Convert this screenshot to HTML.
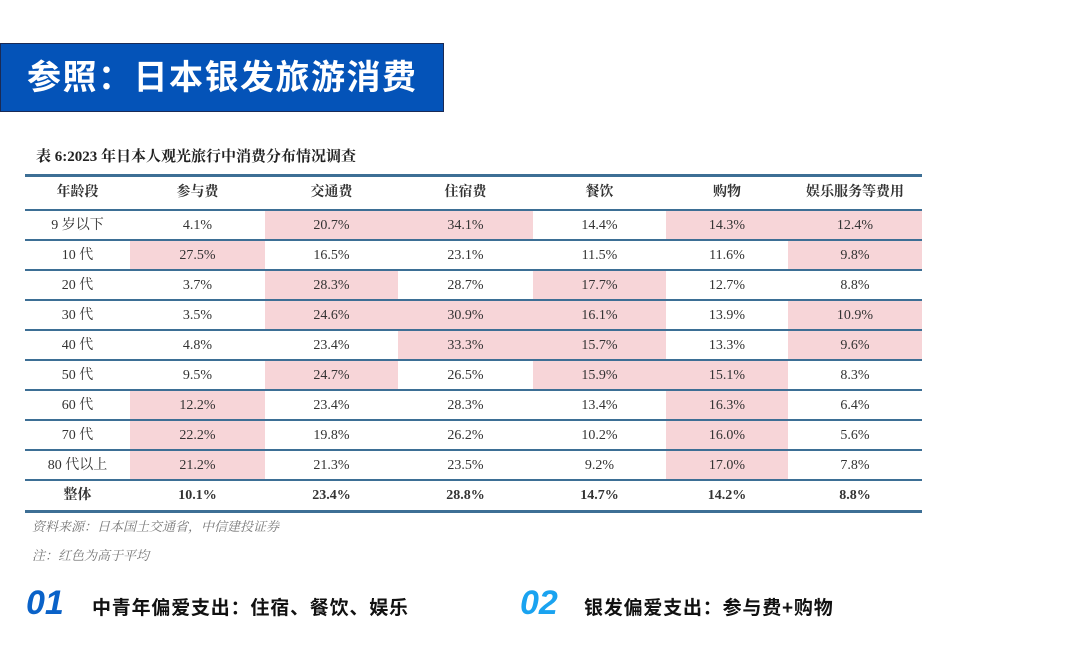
<!DOCTYPE html>
<html><head><meta charset="utf-8">
<style>
body{margin:0;width:1080px;height:652px;background:#fff;position:relative;overflow:hidden;font-family:"Liberation Serif","Noto Serif CJK SC",serif;}
.abs{position:absolute;}
#title{left:0;top:43px;width:444px;height:69px;background:#0453b8;border:1px solid #1a2a55;box-sizing:border-box;}
#title span{position:absolute;left:26px;top:6px;color:#fff;font:bold 34px "Liberation Sans","Noto Sans CJK SC",sans-serif;letter-spacing:1.5px;}
.cell{position:absolute;text-align:center;font-size:14px;color:#333;line-height:32px;}
.hl{background:#f7d5d8;}
.line{position:absolute;left:25px;width:897px;background:#3d6f95;}
.note{font-style:italic;color:#777;font-size:13px;}
.num{font:italic bold 34px "Liberation Sans",sans-serif;}
.sub{font:bold 19px "Liberation Sans","Noto Sans CJK SC",sans-serif;color:#111;letter-spacing:0.8px;}
</style></head><body>
<div id="title" class="abs"><span>参照：日本银发旅游消费</span></div>
<div class="abs" style="left:36px;top:145px;font-weight:bold;font-size:15px;color:#222;">表 6:2023 年日本人观光旅行中消费分布情况调查</div>
<div id="tbl"></div>
<div class="abs note" style="left:32px;top:516px;">资料来源：日本国土交通省，中信建投证券</div>
<div class="abs note" style="left:32px;top:545px;">注：红色为高于平均</div>
<div class="abs num" style="left:26px;top:584px;color:#0a62c8;">01</div>
<div class="abs sub" style="left:92px;top:593px;">中青年偏爱支出：住宿、餐饮、娱乐</div>
<div class="abs num" style="left:520px;top:584px;color:#1aa3f0;">02</div>
<div class="abs sub" style="left:584px;top:593px;">银发偏爱支出：参与费+购物</div>
<script>
const headers=["年龄段","参与费","交通费","住宿费","餐饮","购物","娱乐服务等费用"];
const ages=["9 岁以下","10 代","20 代","30 代","40 代","50 代","60 代","70 代","80 代以上"];
const values=[
[4.1,20.7,34.1,14.4,14.3,12.4],
[27.5,16.5,23.1,11.5,11.6,9.8],
[3.7,28.3,28.7,17.7,12.7,8.8],
[3.5,24.6,30.9,16.1,13.9,10.9],
[4.8,23.4,33.3,15.7,13.3,9.6],
[9.5,24.7,26.5,15.9,15.1,8.3],
[12.2,23.4,28.3,13.4,16.3,6.4],
[22.2,19.8,26.2,10.2,16.0,5.6],
[21.2,21.3,23.5,9.2,17.0,7.8]];
const highlights=[[2,3,5,6],[1,6],[2,4],[2,3,4,6],[3,4,6],[2,4,5],[1,5],[1,5],[1,5]];
const overall=[10.1,23.4,28.8,14.7,14.2,8.8];
const cx=[25,130,265,398,533,666,788,922];
const tbl=document.getElementById('tbl');
function cell(x0,x1,y,txt,bold,hl,name){
 const d=document.createElement('div');
 d.className='cell'+(hl?' hl':'');
 d.style.left=x0+'px';d.style.width=(x1-x0)+'px';d.style.top=y+'px';d.style.height='30px';
 if(bold)d.style.fontWeight='bold';
 d.textContent=txt;
 
 
 tbl.appendChild(d);
}
function line(y,h){
 const l=document.createElement('div');l.className='line';l.style.top=y+'px';l.style.height=h+'px';
 
 
 tbl.appendChild(l);
}
headers.forEach((h,i)=>cell(cx[i],cx[i+1],177,h,true,false,'header-cell'));
values.forEach((row,r)=>{
 const y=210+r*30;
 cell(cx[0],cx[1],y,ages[r],false,false,'age-label');
 row.forEach((v,c)=>cell(cx[c+1],cx[c+2],y,v.toFixed(1)+'%',false,highlights[r].includes(c+1),'value-cell'));
});
const ty=210+values.length*30;
cell(cx[0],cx[1],ty,'整体',true,false,'total-label');
overall.forEach((v,c)=>cell(cx[c+1],cx[c+2],ty,v.toFixed(1)+'%',true,false,'total-cell'));
line(174,3);
for(let r=0;r<=values.length;r++)line(209+r*30,2);
line(ty+30,3);
</script>
</body></html>
